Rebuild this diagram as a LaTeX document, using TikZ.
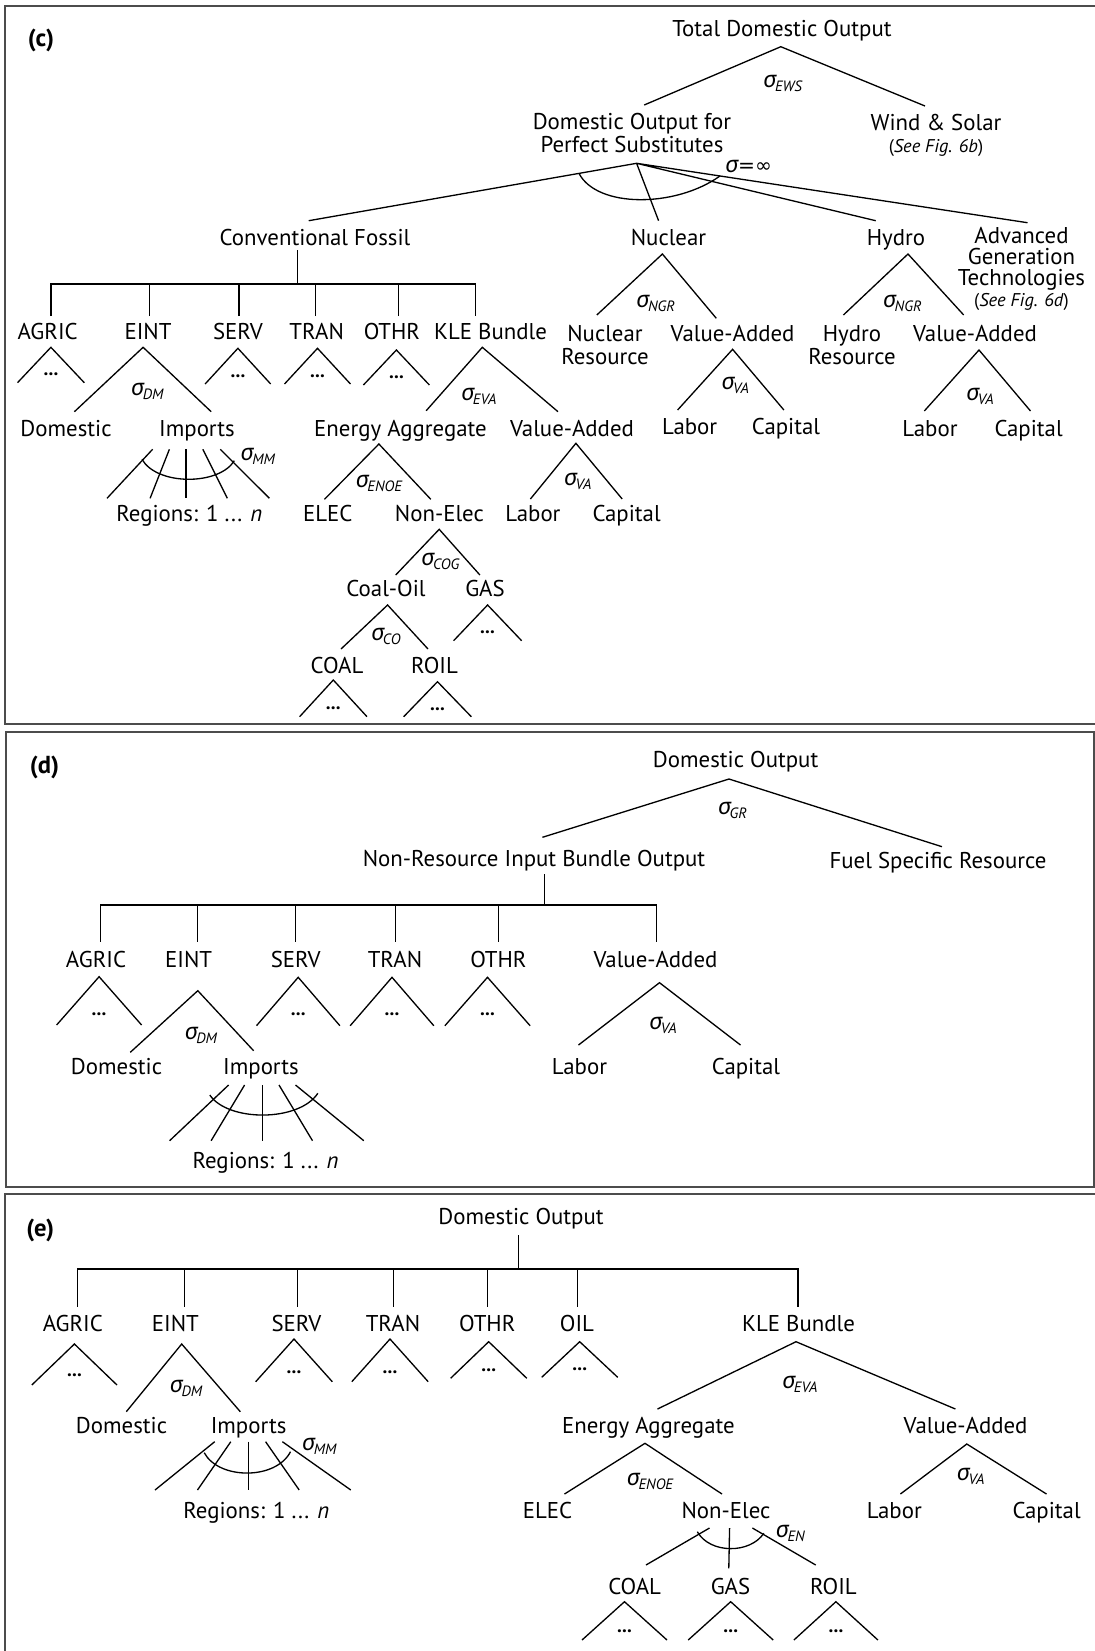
\documentclass[tikz,border=0pt]{standalone}
\usepackage{fontspec}
\setmainfont{PT Sans}
\newfontfamily\sigfont{Noto Sans}
\newfontfamily\symfont{DejaVu Sans}

% elasticity label: sigma with its subscript
\newcommand{\sig}[1]{{\sigfont\itshape σ}\kern-0.6pt{\fontsize{8.5}{9}\selectfont\itshape\raisebox{-0.55ex}{#1}}}
% two-legged fork: name, apex, left end, right end
\newcommand{\tri}[7]{%
  \coordinate (#1-a) at (#2,#3);
  \coordinate (#1-l) at (#4,#5);
  \coordinate (#1-r) at (#6,#7);
  \draw[branch] (#1-l) -- (#1-a) -- (#1-r);}
% small fork with dots: name, apex x, apex y, half width, height
\newcommand{\dotstri}[5]{%
  \coordinate (#1-a) at (#2,#3);
  \coordinate (#1-l) at (#2-#4,#3+#5);
  \coordinate (#1-r) at (#2+#4,#3+#5);
  \node[dots] (#1-d) at (#2,#3+0.76*#5) {...};
  \draw[branch] (#1-l) -- (#1-a) -- (#1-r);}

\tikzset{lbl/.style={inner sep=0pt, text height=9.1pt, text depth=0pt, % one-line labels, centred on the capitals
           font=\fontsize{13}{13}\selectfont},
         stack/.style={inner sep=0pt, anchor=north, align=center, % labels with more lines
           font=\fontsize{13}{13}\selectfont},
         tag/.style={font=\fontsize{14}{14}\selectfont\bfseries},
         elas/.style={inner sep=0pt, text height=6.5pt, text depth=0pt,
           font=\fontsize{13}{13}\selectfont},
         dots/.style={inner sep=0pt, text height=2pt, text depth=0pt,
           font=\fontsize{11}{11}\selectfont\bfseries},
         branch/.style={draw, line width=0.75pt},
         panel/.style={draw=black!70, line width=1pt}}

\begin{document}
\begin{tikzpicture}[x=0.02cm, y=-0.02cm]
\useasboundingbox (0,0) rectangle (1095,1651);
\clip (0,0) rectangle (1095,1651);

% frames
\draw[panel] (1100,5.7) -- (5,5.7) -- (5,724) -- (1100,724);
\draw[panel] (6,732) rectangle (1094,1187);
\draw[panel] (1100,1194) -- (4.7,1194) -- (4.7,1660);

%%%%%%%%%%%%%%%% (c)
\begin{scope}[every node/.style={lbl}]
    \node[tag] (cTag) at (41,38) {(c)};
    \node (cTotal) at (782,28) {Total Domestic Output};
    \node (cFossil) at (315,237) {Conventional Fossil};
    \node (cNuc) at (668.5,237) {Nuclear};
    \node (cHyd) at (896,237) {Hydro};
    \node (cAgric) at (47.7,331.7) {AGRIC};
    \node (cEint) at (148,331.7) {EINT};
    \node (cServ) at (238,331.7) {SERV};
    \node (cTran) at (316.7,331.7) {TRAN};
    \node (cOthr) at (392,331.7) {OTHR};
    \node (cKle) at (490.5,331.7) {KLE Bundle};
    \node (cNucVA) at (732.6,333.3) {Value-Added};
    \node (cHydVA) at (975,333.3) {Value-Added};
    \node (cDom) at (66,428.3) {Domestic};
    \node (cImp) at (197,428.3) {Imports};
    \node (cEnergy) at (400.5,428.3) {Energy Aggregate};
    \node (cKleVA) at (572,428.3) {Value-Added};
    \node (cNucLab) at (689.7,426.7) {Labor};
    \node (cNucCap) at (786,426.7) {Capital};
    \node (cHydLab) at (930,428.3) {Labor};
    \node (cHydCap) at (1028.6,428.3) {Capital};
    \node (cReg) at (189.4,513.3) {Regions: 1 ... \textit{n}};
    \node (cElec) at (327.7,513.3) {ELEC};
    \node (cNonEl) at (439.4,513.3) {Non-Elec};
    \node (cKleLab) at (533,513.3) {Labor};
    \node (cKleCap) at (626.6,513.3) {Capital};
    \node (cCoalOil) at (386,588.3) {Coal-Oil};
    \node (cGas) at (485,588.3) {GAS};
    \node (cCoal) at (337,665) {COAL};
    \node (cRoil) at (434.5,665) {ROIL};
\end{scope}
\node[stack] (cPerfect) at (632,113.2) {Domestic Output for\\Perfect Substitutes};
\node[stack] (cWind) at (936,113.5) {Wind \& Solar\\{\fontsize{10.5}{11}\selectfont(\textit{See Fig. 6b})}};
\node[stack, font=\fontsize{13}{12}\selectfont] (cAdv) at (1021.5,227) {Advanced\\Generation\\Technologies\\{\fontsize{10.5}{11}\selectfont(\textit{See Fig. 6d})}};
\node[stack] (cNucRes) at (605,324.8) {Nuclear\\Resource};
\node[stack] (cHydRes) at (852,325) {Hydro\\Resource};

\begin{scope}[every node/.style={elas}]
    \node (cS1) at (782.7,81.7) {\sig{EWS}};
    \node (cSinf) at (748.6,166.7) {{\sigfont\itshape σ}{\symfont\itshape\fontsize{11.5}{12}\selectfont =∞}};
    \node (cS2) at (655.6,301.7) {\sig{NGR}};
    \node (cS3) at (902.3,301.7) {\sig{NGR}};
    \node (cS4) at (147.3,390) {\sig{DM}};
    \node (cS5) at (478.8,395) {\sig{EVA}};
    \node (cS6) at (735.3,383.3) {\sig{VA}};
    \node (cS7) at (980,395) {\sig{VA}};
    \node (cS8) at (257.8,455) {\sig{MM}};
    \node (cS9) at (378.9,481.7) {\sig{ENOE}};
    \node (cS10) at (577.8,480) {\sig{VA}};
    \node (cS11) at (440.3,559.3) {\sig{COG}};
    \node (cS12) at (385.9,635) {\sig{CO}};
\end{scope}

\tri{cTopT}{780.8}{46.7}{644.2}{105}{925}{106}
\coordinate (cPs) at (636.6,163.3);
\coordinate (cPsF) at (308.7,220.7);
\coordinate (cPsN) at (658.6,220.7);
\coordinate (cPsH) at (875.7,220.7);
\coordinate (cPsA) at (1027.5,222.7);
\draw[branch] (cPs) -- (cPsF) (cPs) -- (cPsN) (cPs) -- (cPsH) (cPs) -- (cPsA);
\coordinate (cArcL) at (579,173.4);
\coordinate (cArcR) at (720,176);
\draw[branch] (cArcL) .. controls (597,208) and (675,208) .. (cArcR);

\coordinate (cStem) at (297.5,250);
\coordinate (cBar) at (297.5,284);
\draw[branch] (cStem) -- (cBar);
\foreach \x [count=\i] in {50.9,149.8,238.9,315.7,398.2,475.3}
    \coordinate (cD\i) at (\x,316);
\draw[branch] (cD1) |- (cBar) -| (cD6);
\draw[branch] (cD2) -- (cD2 |- cBar) (cD3) -- (cD3 |- cBar)
              (cD4) -- (cD4 |- cBar) (cD5) -- (cD5 |- cBar);

\dotstri{cAgT}{50.9}{347.3}{33.4}{35.4}
\dotstri{cServT}{237.9}{348.3}{32.8}{35.7}
\dotstri{cTranT}{317.5}{348.3}{33}{35.7}
\dotstri{cOthrT}{396.4}{350}{33}{35}
\dotstri{cGasT}{487.6}{605}{34}{35.7}
\dotstri{cCoalT}{333.3}{680}{33.7}{36.7}
\dotstri{cRoilT}{437.5}{681.7}{33.8}{35}
\tri{cEintT}{143.1}{347.3}{74.4}{411.7}{211.2}{411.7}
\tri{cKleT}{482.3}{347.3}{426.2}{410.7}{558}{411.7}
\tri{cEnT}{378.9}{444}{324.5}{499.3}{430.8}{499.3}
\tri{cKvaT}{575.9}{443.3}{530.4}{499}{622.2}{499}
\tri{cNonT}{439.2}{529.3}{395.7}{575}{479.9}{575}
\tri{cCoT}{387.6}{605}{341}{649}{428}{649}
\tri{cNucT}{662.4}{254}{596.8}{315}{716.3}{318.3}
\tri{cHydT}{908}{254}{843.4}{315}{963.7}{315}
\tri{cNvaT}{732.6}{349.3}{677.6}{410}{783.9}{410}
\tri{cHvaT}{979}{350}{924.3}{411}{1030.5}{411}

\foreach \t/\b [count=\i] in {152.6/107,169.4/150.1,185.9/185.9,202.8/227.3,220.3/269.4}{
    \coordinate (cFa\i) at (\t,449.3);
    \coordinate (cFb\i) at (\b,498.3);
    \draw[branch] (cFa\i) -- (cFb\i);}
\coordinate (cFanL) at (142,459.3);
\coordinate (cFanR) at (234.3,460.7);
\draw[branch] (cFanL) .. controls (157,485.7) and (219,485.7) .. (cFanR);

%%%%%%%%%%%%%%%% (d)
\begin{scope}[every node/.style={lbl}]
    \node[tag] (dTag) at (44.6,765) {(d)};
    \node (dTotal) at (735.6,759.3) {Domestic Output};
    \node (dNrib) at (534,858.3) {Non-Resource Input Bundle Output};
    \node (dFuel) at (938,860) {Fuel Specific Resource};
    \node (dAgric) at (96,959.3) {AGRIC};
    \node (dEint) at (188.6,959.3) {EINT};
    \node (dServ) at (295.7,959.3) {SERV};
    \node (dTran) at (395,959.3) {TRAN};
    \node (dOthr) at (498.5,959.3) {OTHR};
    \node (dVA) at (655.5,959.3) {Value-Added};
    \node (dDom) at (116.5,1066) {Domestic};
    \node (dImp) at (261,1066) {Imports};
    \node (dLab) at (579.5,1066) {Labor};
    \node (dCap) at (746,1066) {Capital};
    \node (dReg) at (265.6,1160.7) {Regions: 1 ... \textit{n}};
\end{scope}
\begin{scope}[every node/.style={elas}]
    \node (dS1) at (732.5,808.3) {\sig{GR}};
    \node (dS2) at (200.9,1033.3) {\sig{DM}};
    \node (dS3) at (663,1023.3) {\sig{VA}};
\end{scope}

\tri{dTopT}{729}{779}{542.4}{837.3}{942}{846.7}
\coordinate (dStem) at (544.6,874);
\coordinate (dBar) at (544.6,905);
\draw[branch] (dStem) -- (dBar);
\foreach \x [count=\i] in {100.4,197.8,295.5,395.5,498.6,656.2}
    \coordinate (dD\i) at (\x,941.7);
\draw[branch] (dD1) |- (dBar) -| (dD6);
\draw[branch] (dD2) -- (dD2 |- dBar) (dD3) -- (dD3 |- dBar)
              (dD4) -- (dD4 |- dBar) (dD5) -- (dD5 |- dBar);

\dotstri{dAgT}{99.1}{976.7}{42.5}{48.3}
\dotstri{dServT}{298.2}{977.3}{41.7}{48.4}
\dotstri{dTranT}{392}{977.3}{41.8}{48.4}
\dotstri{dOthrT}{487.5}{977.3}{42.6}{48.4}
\tri{dEintT}{197.8}{990.7}{130.3}{1052.3}{253.6}{1050.7}
\tri{dVaT}{659.5}{982.7}{578.5}{1045}{740.5}{1045}

\foreach \t/\b [count=\i] in {228.6/169.6,244.6/211.1,262.5/262.5,279/312.5,295.5/363.8}{
    \coordinate (dFa\i) at (\t,1085);
    \coordinate (dFb\i) at (\b,1140.7);
    \draw[branch] (dFa\i) -- (dFb\i);}
\coordinate (dFanL) at (209.8,1095);
\coordinate (dFanR) at (317.8,1093.3);
\draw[branch] (dFanL) .. controls (228,1122) and (299,1122) .. (dFanR);

%%%%%%%%%%%%%%%% (e)
\begin{scope}[every node/.style={lbl}]
    \node[tag] (eTag) at (40.3,1228.3) {(e)};
    \node (eTotal) at (521,1216.7) {Domestic Output};
    \node (eAgric) at (72.8,1323.3) {AGRIC};
    \node (eEint) at (175.4,1323.3) {EINT};
    \node (eServ) at (296.5,1323.3) {SERV};
    \node (eTran) at (393,1323.3) {TRAN};
    \node (eOthr) at (487.3,1323.3) {OTHR};
    \node (eOil) at (577,1323.3) {OIL};
    \node (eKle) at (798.5,1323.3) {KLE Bundle};
    \node (eDom) at (121.5,1425) {Domestic};
    \node (eImp) at (248.6,1425) {Imports};
    \node (eReg) at (256.4,1510.7) {Regions: 1 ... \textit{n}};
    \node (eEnergy) at (648.4,1425) {Energy Aggregate};
    \node (eVA) at (965.6,1425) {Value-Added};
    \node (eElec) at (547.5,1510) {ELEC};
    \node (eNonEl) at (726,1510) {Non-Elec};
    \node (eLab) at (894.3,1510) {Labor};
    \node (eCap) at (1046.6,1510) {Capital};
    \node (eCoal) at (634.6,1586) {COAL};
    \node (eGas) at (730.5,1586) {GAS};
    \node (eRoil) at (833.4,1586) {ROIL};
\end{scope}
\begin{scope}[every node/.style={elas}]
    \node (eS1) at (186,1386.7) {\sig{DM}};
    \node (eS2) at (319.2,1445) {\sig{MM}};
    \node (eS3) at (799.8,1382.7) {\sig{EVA}};
    \node (eS4) at (650,1479.3) {\sig{ENOE}};
    \node (eS5) at (970.6,1475) {\sig{VA}};
    \node (eS6) at (790.3,1531.7) {\sig{EN}};
\end{scope}

\coordinate (eStem) at (518.5,1235);
\coordinate (eBar) at (518.5,1269);
\draw[branch] (eStem) -- (eBar);
\foreach \x [count=\i] in {77.2,184.2,297.5,393.6,487.6,577.8,797.9}
    \coordinate (eD\i) at (\x,1306.7);
\draw[branch] (eD1) |- (eBar) -| (eD7);
\draw[branch] (eD2) -- (eD2 |- eBar) (eD3) -- (eD3 |- eBar) (eD4) -- (eD4 |- eBar)
              (eD5) -- (eD5 |- eBar) (eD6) -- (eD6 |- eBar);

\dotstri{eAgT}{74.4}{1344}{42.6}{41}
\dotstri{eServT}{294}{1339}{38.3}{42.7}
\dotstri{eTranT}{390}{1339}{38.2}{42.7}
\dotstri{eOthrT}{488.7}{1341.7}{38.1}{36.6}
\dotstri{eOilT}{579.7}{1341.7}{38}{35.6}
\dotstri{eCoalT}{624.5}{1601.7}{42.5}{38.3}
\dotstri{eGasT}{730.7}{1601.7}{42.5}{38.3}
\dotstri{eRoilT}{835.9}{1601.7}{42}{38.3}
\tri{eEintT}{181.7}{1344}{126.3}{1411.7}{240.3}{1411.7}
\tri{eKleT}{796}{1341.7}{657.5}{1409}{955.4}{1409}
\tri{eEnT}{645}{1443.3}{564.5}{1494}{722}{1494}
\tri{eVaT}{966.8}{1444}{900.4}{1494}{1046.5}{1494}

\foreach \t/\b [count=\i] in {214.7/155,230.8/197.5,248.4/248.4,265.6/299.2,282.4/350.8}{
    \coordinate (eFa\i) at (\t,1441.7);
    \coordinate (eFb\i) at (\b,1490);
    \draw[branch] (eFa\i) -- (eFb\i);}
\coordinate (eFanL) at (204.2,1452.7);
\coordinate (eFanR) at (290.5,1451.7);
\draw[branch] (eFanL) .. controls (219,1480) and (276,1480) .. (eFanR);

\foreach \t/\b/\y [count=\i] in {709.5/646/1565,729.6/728.8/1568.3,752.4/815.7/1565}{
    \coordinate (eNa\i) at (\t,1528);
    \coordinate (eNb\i) at (\b,\y);
    \draw[branch] (eNa\i) -- (eNb\i);}
\coordinate (eNonL) at (697.3,1531.7);
\coordinate (eNonR) at (763.8,1533.3);
\draw[branch] (eNonL) .. controls (710,1554) and (750,1554) .. (eNonR);
\end{tikzpicture}
\end{document}
